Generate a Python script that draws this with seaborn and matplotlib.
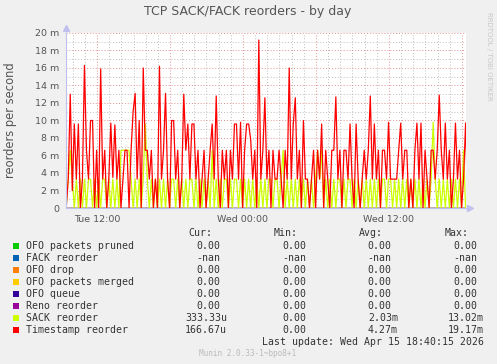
import numpy as np
import pandas as pd
import matplotlib
matplotlib.use('Agg')
import matplotlib.pyplot as plt
import matplotlib.dates as mdates
from matplotlib.ticker import MultipleLocator, FuncFormatter
from matplotlib.patches import Rectangle
import seaborn as sns

# ------------------------------------------------------------
# data: reorders per second, in milli units, one sample / 10 min
# ------------------------------------------------------------
timestamp_reorder = [
    3.3, 0, 3.3, 13, 2, 9.6, 3.3, 9.6, 0, 3.3,
    16.3, 6.6, 3.3, 10, 10, 0, 6.6, 0, 15.9, 3.3,
    6.6, 0, 3.3, 9.7, 3.5, 9.5, 3.3, 6.6, 0, 3.3,
    6.6, 6.6, 0, 6.6, 11, 13.1, 3.3, 10, 0, 16,
    6.6, 6.6, 3.3, 6.6, 0, 3.3, 0, 16.2, 3.3, 6.6,
    13.1, 3.3, 0, 10, 10, 3.3, 6.6, 0, 3.3, 13,
    6.6, 9.6, 3.3, 9.6, 9.6, 3.3, 6.6, 0, 3.3, 6.6,
    0, 3.3, 6.6, 9.6, 3.3, 12.8, 3.3, 0, 6.6, 3.3,
    6.6, 0, 6.6, 3.3, 9.6, 9.6, 3.3, 9.8, 0, 6.6,
    9.6, 9.6, 7.8, 3.3, 6.6, 0, 19.2, 3.3, 6.6, 12.6,
    3.3, 6.6, 0, 6.6, 3.3, 3.3, 6.6, 3.3, 0, 6.6,
    3.3, 16, 3.3, 9.6, 12.6, 3.3, 6.6, 0, 10, 3.3,
    3.3, 0, 3.3, 6.6, 0, 6.6, 3.3, 9.6, 0, 6.6,
    3.3, 0, 6.6, 6.6, 12.7, 3.3, 6.6, 0, 6.6, 6.6,
    3.3, 9.6, 3.3, 0, 9.6, 3.3, 0, 3.3, 6.6, 3.3,
    6.6, 12.8, 3.3, 9.6, 3.3, 6.6, 0, 6.6, 6.6, 3.3,
    9.8, 3.3, 3.3, 3.3, 3.3, 6.6, 9.7, 3.3, 6.6, 6.6,
    0, 3.3, 0, 6.6, 9.7, 3.3, 9.7, 0, 6.6, 3.3,
    0, 6.6, 6.6, 3.3, 6.6, 12.9, 6.6, 3.3, 9.7, 3.3,
    6.6, 0, 3.3, 9.7, 3.3, 6.6, 0, 3.3, 9.7, 0,
]
sack_reorder = [
    3.3, 0, 3.3, 6.6, 3.3, 0, 3.3, 0, 3.3, 0,
    3.3, 0, 3.3, 3.3, 0, 3.3, 0, 3.3, 0, 3.3,
    3.3, 0, 3.3, 0, 3.3, 0, 3.3, 0, 6.6, 6.6,
    6.6, 6.6, 6.6, 3.3, 0, 3.3, 0, 3.3, 0, 3.3,
    9.6, 3.3, 0, 3.3, 0, 3.3, 0, 3.3, 0, 3.3,
    0, 3.3, 0, 3.3, 3.3, 0, 3.3, 0, 3.3, 0,
    3.3, 0, 3.3, 3.3, 0, 3.3, 0, 3.3, 0, 3.3,
    0, 3.3, 0, 6.6, 0, 3.3, 0, 3.3, 0, 3.3,
    3.3, 0, 3.3, 0, 3.3, 3.3, 0, 3.3, 0, 3.3,
    0, 3.3, 0, 3.3, 0, 3.3, 0, 3.3, 0, 3.3,
    0, 3.3, 3.3, 0, 3.3, 3.3, 0, 3.3, 6.6, 0,
    3.3, 0, 3.3, 0, 3.3, 0, 3.3, 0, 3.3, 0,
    3.3, 0, 3.3, 0, 3.3, 6.6, 3.3, 6.6, 0, 3.3,
    0, 3.3, 0, 3.3, 0, 3.3, 3.3, 0, 3.3, 0,
    3.3, 3.3, 0, 3.3, 0, 3.3, 0, 3.3, 0, 3.3,
    0, 3.3, 0, 3.3, 0, 3.3, 0, 3.3, 3.3, 0,
    3.3, 3.3, 0, 3.3, 0, 3.3, 0, 3.3, 0, 3.3,
    0, 3.3, 0, 3.3, 0, 3.3, 0, 3.3, 0, 3.3,
    0, 3.3, 9.8, 3.3, 0, 3.3, 0, 3.3, 0, 3.3,
    0, 3.3, 0, 3.3, 0, 3.3, 0, 6.6, 0, 0,
]
flat_zero = [0.0] * len(timestamp_reorder)   # pruned, drop, merged, queue, reno

series_names = ["OFO packets pruned", "FACK reorder", "OFO drop", "OFO packets merged",
                "OFO queue", "Reno reorder", "SACK reorder", "Timestamp reorder"]
series_colors = ["#00CC00", "#0066B3", "#FF8000", "#FFCC00",
                 "#330099", "#990099", "#CCFF00", "#FF0000"]
cur_vals = ["0.00", "-nan", "0.00", "0.00", "0.00", "0.00", "333.33u", "166.67u"]
min_vals = ["0.00", "-nan", "0.00", "0.00", "0.00", "0.00", "0.00", "0.00"]
avg_vals = ["0.00", "-nan", "0.00", "0.00", "0.00", "0.00", "2.03m", "4.27m"]
max_vals = ["0.00", "-nan", "0.00", "0.00", "0.00", "0.00", "13.02m", "19.17m"]

t_start = pd.Timestamp("2026-04-14 09:18")
x_from = pd.Timestamp("2026-04-14 09:27")
x_to = pd.Timestamp("2026-04-15 18:20")
times = pd.date_range(t_start, periods=len(timestamp_reorder), freq="10min")

# long table, in drawing order (last on top); FACK is nan -> not drawn
drawn = {
    "OFO packets pruned": flat_zero,
    "OFO drop": flat_zero,
    "OFO packets merged": flat_zero,
    "OFO queue": flat_zero,
    "Reno reorder": flat_zero,
    "SACK reorder": sack_reorder,
    "Timestamp reorder": timestamp_reorder,
}
frames = []
for name, vals in drawn.items():
    frames.append(pd.DataFrame({"time": times, "value": np.array(vals) / 1000.0, "series": name}))
df = pd.concat(frames, ignore_index=True)
palette = {n: c for n, c in zip(series_names, series_colors)}

# ------------------------------------------------------------
sns.set_style("white")
plt.rcParams['font.family'] = ['DejaVu Sans']

W, H = 497, 364
BG = "#F0F0F0"
fig = plt.figure(figsize=(W / 100, H / 100), dpi=100, facecolor=BG)
ax = fig.add_axes([66 / W, 1 - 208 / H, 400 / W, 175 / H])
ax.set_facecolor("white")

sns.lineplot(data=df, x="time", y="value", hue="series", hue_order=list(drawn.keys()),
             palette=palette, estimator=None, legend=False, lw=0.9, ax=ax)

ax.set_xlim(x_from, x_to)
ax.set_ylim(0, 0.020)

# grid like rrdtool
ax.yaxis.set_major_locator(MultipleLocator(0.002))
ax.yaxis.set_minor_locator(MultipleLocator(0.001))
ax.xaxis.set_major_locator(mdates.HourLocator(byhour=[0, 6, 12, 18]))
ax.xaxis.set_minor_locator(mdates.HourLocator())


def xfmt(x, pos):
    d = mdates.num2date(x)
    return d.strftime("%a %H:%M") if d.hour in (0, 12) else ""


def yfmt(v, pos):
    return "0" if abs(v) < 1e-9 else f"{v * 1000:.0f} m"


ax.xaxis.set_major_formatter(FuncFormatter(xfmt))
ax.yaxis.set_major_formatter(FuncFormatter(yfmt))
ax.grid(which="minor", color="#BEBEBE", linestyle=(0, (1, 2)), lw=0.7)
ax.grid(which="major", color="#E29292", linestyle=(0, (1, 2)), lw=0.7)
ax.set_axisbelow(True)
ax.tick_params(axis="y", which="major", length=3, width=0.7, color="#E29292",
               labelsize=6.8, labelcolor="#555555", pad=2)
ax.tick_params(axis="y", which="minor", length=0)
ax.tick_params(axis="x", which="major", length=3, width=0.7, color="#E29292",
               labelsize=6.8, labelcolor="#555555", pad=2)
ax.tick_params(axis="x", which="minor", length=2, width=0.5, color="#BEBEBE")
ax.set_xlabel("")
ax.set_ylabel("")
fig.text(11 / W, 1 - 120 / H, "reorders per second", rotation=90, ha="center", va="center",
         fontsize=8.3, color="#555555")

for s in ["top", "right"]:
    ax.spines[s].set_visible(False)
for s in ["left", "bottom"]:
    ax.spines[s].set_color("#C0C0EE")
    ax.spines[s].set_linewidth(0.8)
ax.plot([0], [1.03], marker="^", ms=4, color="#C0C0EE", transform=ax.transAxes, clip_on=False)
ax.plot([1.01], [0], marker=">", ms=4, color="#C0C0EE", transform=ax.transAxes, clip_on=False)

# titles and side text
fig.text(248 / W, 1 - 12 / H, "TCP SACK/FACK reorders - by day", ha="center", va="center",
         fontsize=9, color="#555555")
fig.text(489 / W, 1 - 56 / H, "RRDTOOL / TOBI OETIKER", ha="center", va="center",
         rotation=270, fontsize=5, color="#C8C8C8")

# legend block
mono = "DejaVu Sans Mono"
fs = 7.1
tc = "#333333"
for hx, lab in [(212, "Cur:"), (298, "Min:"), (383, "Avg:"), (469, "Max:")]:
    fig.text(hx / W, 1 - 233 / H, lab, ha="right", va="center", family=mono, fontsize=fs, color=tc)


def val_x(right_num, right_unit, s):
    return right_unit if s[-1] in "um" else right_num


for i, name in enumerate(series_names):
    y = 245.7 + 12 * i
    fy = 1 - y / H
    fig.patches.append(Rectangle((13 / W, fy - 3 / H), 6 / W, 6 / H, transform=fig.transFigure,
                                 facecolor=series_colors[i], edgecolor="none"))
    fig.text(26.5 / W, fy, name, ha="left", va="center", family=mono, fontsize=fs, color=tc)
    for vals, rn, ru in [(cur_vals, 220, 227), (min_vals, 306, 313),
                         (avg_vals, 391, 398), (max_vals, 477, 484)]:
        v = vals[i]
        fig.text(val_x(rn, ru, v) / W, fy, v, ha="right", va="center", family=mono,
                 fontsize=fs, color=tc)

fig.text(483.5 / W, 1 - 341.7 / H, "Last update: Wed Apr 15 18:40:15 2026", ha="right",
         va="center", family=mono, fontsize=fs, color=tc)
fig.text(248 / W, 1 - 353 / H, "Munin 2.0.33-1~bpo8+1", ha="center", va="center",
         family=mono, fontsize=5.6, color="#BBBBBB")

fig.savefig("out.png", dpi=100, facecolor=BG)
